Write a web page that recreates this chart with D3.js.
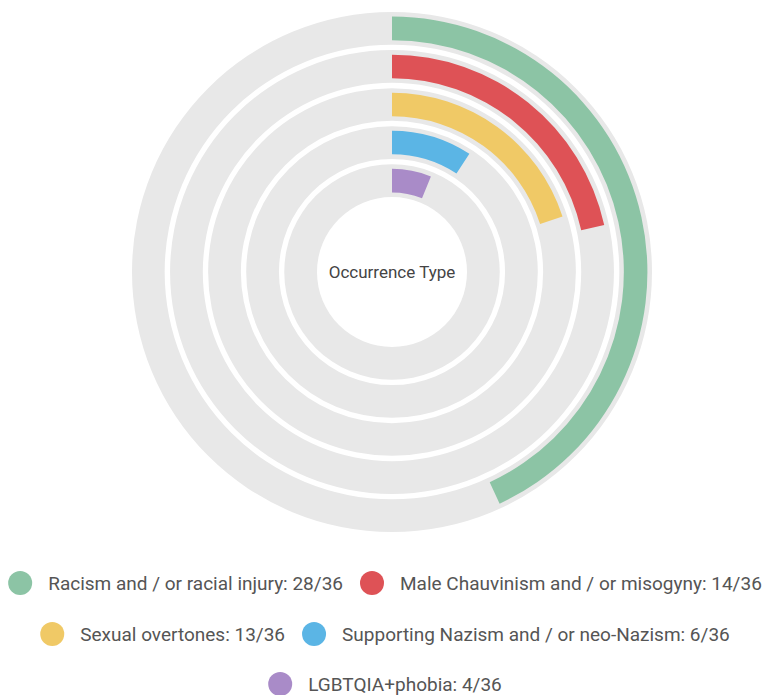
<!DOCTYPE html>
<html>
<head>
<meta charset="utf-8">
<script src="https://cdn.jsdelivr.net/npm/d3@7"></script>
<style>
  body { margin: 0; background: #fff; }
  text { font-family: Roboto, "Noto Sans", sans-serif; }
</style>
</head>
<body>
<svg id="chart" width="763" height="695"></svg>
<script>
const categories = [
  'Racism and / or racial injury',
  'Male Chauvinism and / or misogyny',
  'Sexual overtones',
  'Supporting Nazism and / or neo-Nazism',
  'LGBTQIA+phobia'
]
const counts = [28, 14, 13, 6, 4]
const outOf = 36
const colors = ['#8cc4a5', '#de5256', '#f0c966', '#5bb5e5', '#a98bc8']
const centerLabel = 'Occurrence Type'

const svg = d3.select('#chart')
const cx = 392, cy = 272
const g = svg.append('g').attr('transform', `translate(${cx},${cy})`)

// rings go outward from the inner hole, first category outermost
const ring = d3.scaleBand()
  .domain(categories.slice().reverse())
  .range([75, 260])
  .paddingInner(0.14)

const angle = d3.scaleLinear()
  .domain([0, d3.sum(counts)])
  .range([0, 2 * Math.PI])

const rows = categories.map((name, i) => ({name, value: counts[i], color: colors[i]}))

const track = d3.arc()
  .innerRadius(d => ring(d.name))
  .outerRadius(d => ring(d.name) + ring.bandwidth())
  .startAngle(0)
  .endAngle(2 * Math.PI)

const inset = ring.bandwidth() * 0.14
const bar = d3.arc()
  .innerRadius(d => ring(d.name) + inset)
  .outerRadius(d => ring(d.name) + ring.bandwidth() - inset)
  .startAngle(0)
  .endAngle(d => angle(d.value))

g.selectAll('.track').data(rows).join('path')
  .attr('class', 'track')
  .attr('fill', '#e8e8e8')
  .attr('d', track)

g.selectAll('.bar').data(rows).join('path')
  .attr('class', 'bar')
  .attr('fill', d => d.color)
  .attr('d', bar)

g.append('text')
  .attr('text-anchor', 'middle')
  .attr('dy', '0.35em')
  .attr('font-size', 17)
  .attr('fill', '#444')
  .text(centerLabel)

// legend, wrapped into centred rows
const legend = svg.append('g')
const r = 12, textGap = 16, itemGap = 17, maxWidth = 755, midX = 385
const rowY = [583, 634, 684]

const items = legend.selectAll('.item').data(rows).join('g').attr('class', 'item')
items.append('circle').attr('r', r).attr('cx', r).attr('fill', d => d.color)
items.append('text')
  .attr('x', 2 * r + textGap)
  .attr('dy', '0.35em')
  .attr('font-size', 19)
  .attr('fill', '#555')
  .text(d => `${d.name}: ${d.value}/${outOf}`)

const widths = []
items.each(function() {
  widths.push(2 * r + textGap + d3.select(this).select('text').node().getComputedTextLength())
})

const lines = []
let cur = []
let curW = 0
widths.forEach((w, i) => {
  const add = cur.length ? itemGap + w : w
  if (cur.length && curW + add > maxWidth) {
    lines.push({idx: cur, width: curW})
    cur = [i]; curW = w
  } else {
    cur.push(i); curW += add
  }
})
lines.push({idx: cur, width: curW})

lines.forEach((line, li) => {
  let x = midX - line.width / 2
  line.idx.forEach(i => {
    d3.select(items.nodes()[i]).attr('transform', `translate(${x},${rowY[li]})`)
    x += widths[i] + itemGap
  })
})
</script>
</body>
</html>
